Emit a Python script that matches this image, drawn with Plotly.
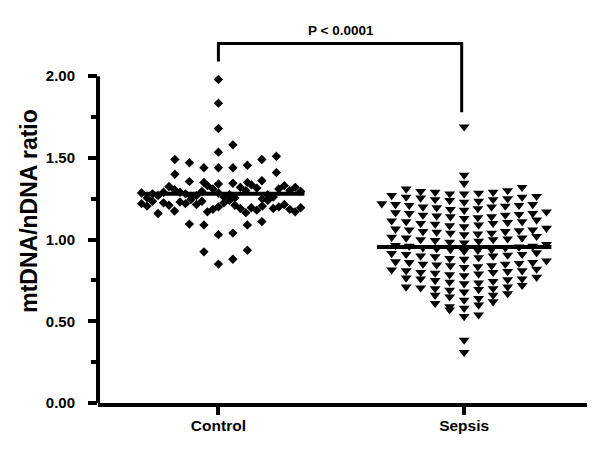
import numpy as np
import plotly.graph_objects as go

categories = ["Control", "Sepsis"]

control = [
    0.85, 0.88, 0.925, 0.935,
    1.03, 1.04, 1.09, 1.09, 1.095, 1.11,
    1.20, 1.225, 1.185, 1.24, 1.17, 1.21, 1.235, 1.19, 1.215, 1.165,
    1.245, 1.195, 1.22, 1.18, 1.23, 1.205, 1.175, 1.24, 1.21, 1.19,
    1.225, 1.20, 1.16, 1.215, 1.235, 1.185, 1.205, 1.17, 1.22, 1.195,
    1.285, 1.26, 1.31, 1.275, 1.33, 1.255, 1.295, 1.32, 1.27, 1.30,
    1.265, 1.335, 1.28, 1.315, 1.29, 1.25, 1.305, 1.275, 1.325, 1.26,
    1.29, 1.31, 1.27, 1.33, 1.28, 1.30, 1.255, 1.32, 1.285, 1.295,
    1.34, 1.345, 1.35, 1.35, 1.355, 1.36, 1.40, 1.41,
    1.44, 1.44, 1.44, 1.455, 1.47, 1.49, 1.49, 1.51,
    1.535, 1.58,
    1.68, 1.835, 1.98,
]

sepsis = [
    1.69, 1.395, 1.345,
    1.32, 1.30, 1.31, 1.29, 1.295, 1.285, 1.28, 1.28, 1.29,
    1.27, 1.265, 1.26, 1.255, 1.25, 1.245, 1.24, 1.245, 1.235, 1.23, 1.26,
    1.22, 1.21, 1.215, 1.20, 1.205, 1.19, 1.185, 1.195, 1.18, 1.21, 1.20, 1.215,
    1.17, 1.16, 1.165, 1.15, 1.155, 1.145, 1.14, 1.135, 1.13, 1.16, 1.15, 1.14,
    1.12, 1.11, 1.115, 1.10, 1.105, 1.095, 1.09, 1.085, 1.08, 1.11, 1.10,
    1.07, 1.06, 1.065, 1.05, 1.055, 1.045, 1.04, 1.035, 1.03, 1.06, 1.05, 1.04,
    1.02, 1.01, 1.015, 1.00, 1.005, 0.995, 0.99, 0.985, 0.98, 1.01, 1.00,
    0.97, 0.96, 0.965, 0.95, 0.955, 0.945, 0.94, 0.935, 0.93, 0.96, 0.95, 0.94,
    0.92, 0.91, 0.915, 0.90, 0.905, 0.895, 0.89, 0.885, 0.88, 0.91, 0.90,
    0.87, 0.86, 0.865, 0.85, 0.855, 0.845, 0.84, 0.835, 0.83, 0.86, 0.85, 0.84,
    0.82, 0.81, 0.815, 0.80, 0.805, 0.795, 0.79, 0.785, 0.78, 0.81, 0.80,
    0.77, 0.76, 0.765, 0.75, 0.755, 0.745, 0.74, 0.735, 0.73, 0.76,
    0.72, 0.71, 0.70, 0.705, 0.69, 0.695, 0.68, 0.71, 0.70,
    0.67, 0.66, 0.65, 0.64, 0.63, 0.66,
    0.62, 0.61, 0.60, 0.59, 0.58,
    0.57, 0.54, 0.53,
    0.385, 0.31,
]

means = [1.28, 0.955]
p_label = "P < 0.0001"
y_ticks = [0.0, 0.5, 1.0, 1.5, 2.0]
y_minor = [0.25, 0.75, 1.25, 1.75]

STEP = 0.059      # default horizontal gap between neighbours (x units)
MAX_HALF = 0.335  # widest a row may spread from its centre


def rows_sequential(values, h):
    """Group values into rows of height h; keep the listed order inside each row."""
    order = sorted(range(len(values)), key=lambda i: values[i])
    rows, cur, start = [], [], None
    for i in order:
        v = values[i]
        if start is None or v >= start + h - 1e-9:
            if cur:
                rows.append(cur)
            cur, start = [i], v
        else:
            cur.append(i)
    if cur:
        rows.append(cur)
    return [[values[i] for i in sorted(r)] for r in rows]


def rows_grid(values, h):
    d = {}
    for v in values:
        d.setdefault(int(np.floor(v / h + 0.5 + 1e-9)), []).append(v)
    return [sorted(d[k]) for k in sorted(d)]


def place(rows, center, alternate):
    xs, ys = [], []
    for r, vs in enumerate(rows):
        n = len(vs)
        m = max(1, int(np.ceil((n - 1) / 2)))
        gap = min(STEP, MAX_HALF / m)
        first = -1 if (alternate and r % 2 == 1) else 1
        for i, v in enumerate(vs):          # fill from the middle outward
            j = (i + 1) // 2
            side = first if i % 2 == 1 else -first
            xs.append(center + side * j * gap)
            ys.append(v)
    return xs, ys


cx, cy = place(rows_sequential(control, 0.09), 0, alternate=False)
sx, sy = place(rows_grid(sepsis, 0.05), 1, alternate=True)

FONT = "Liberation Sans, Arial, sans-serif"

fig = go.Figure()
fig.add_trace(go.Scatter(x=cx, y=cy, mode="markers",
                         marker=dict(symbol="diamond", size=7.2, color="black"),
                         cliponaxis=False, showlegend=False, hoverinfo="skip"))
fig.add_trace(go.Scatter(x=sx, y=sy, mode="markers",
                         marker=dict(symbol="triangle-down", size=9.5, color="black"),
                         cliponaxis=False, showlegend=False, hoverinfo="skip"))

mean_span = [(-0.31, 0.35), (-0.355, 0.355)]
for i, m in enumerate(means):
    fig.add_trace(go.Scatter(x=[i + mean_span[i][0], i + mean_span[i][1]], y=[m, m], mode="lines",
                             line=dict(color="black", width=4),
                             showlegend=False, hoverinfo="skip"))

# significance bracket
fig.add_trace(go.Scatter(x=[0, 0, 0.99, 0.99], y=[2.09, 2.20, 2.20, 1.78], mode="lines",
                         line=dict(color="black", width=3),
                         showlegend=False, hoverinfo="skip"))
fig.add_annotation(x=0.5, y=2.28, xref="x", yref="y", text=p_label, showarrow=False,
                   font=dict(family=FONT, size=13.5, color="black", weight="bold"))

# y axis line (only up to 2.00)
fig.add_shape(type="line", xref="paper", yref="y", x0=0, x1=0, y0=0, y1=2.0,
              line=dict(color="black", width=4))

# page body has an 8px default margin: offset the figure margins to compensate
fig.update_layout(
    width=600, height=452,
    margin=dict(l=90, r=21, t=11, b=57),
    paper_bgcolor="white", plot_bgcolor="white",
    font=dict(family=FONT, color="black"),
    xaxis=dict(range=[-0.49, 1.5], tickvals=[0, 1], ticktext=categories,
               showline=True, linecolor="black", linewidth=4,
               ticks="outside", ticklen=8, tickwidth=4, tickcolor="black",
               showgrid=False, zeroline=False, automargin=False,
               ticklabelstandoff=-3,
               tickfont=dict(size=15.5, weight="bold")),
    yaxis=dict(range=[0, 2.35], tickvals=y_ticks, tickformat=".2f",
               showline=False, ticks="outside", ticklen=9, tickwidth=4, tickcolor="black",
               minor=dict(tickvals=y_minor, ticks="outside", ticklen=6, tickwidth=4, tickcolor="black"),
               showgrid=False, zeroline=False, automargin=False,
               ticklabelstandoff=10,
               tickfont=dict(size=15, weight="bold"),
               title=dict(text="mtDNA/nDNA ratio", font=dict(size=23, weight="bold"), standoff=1)),
)

fig.write_html("out.html")
